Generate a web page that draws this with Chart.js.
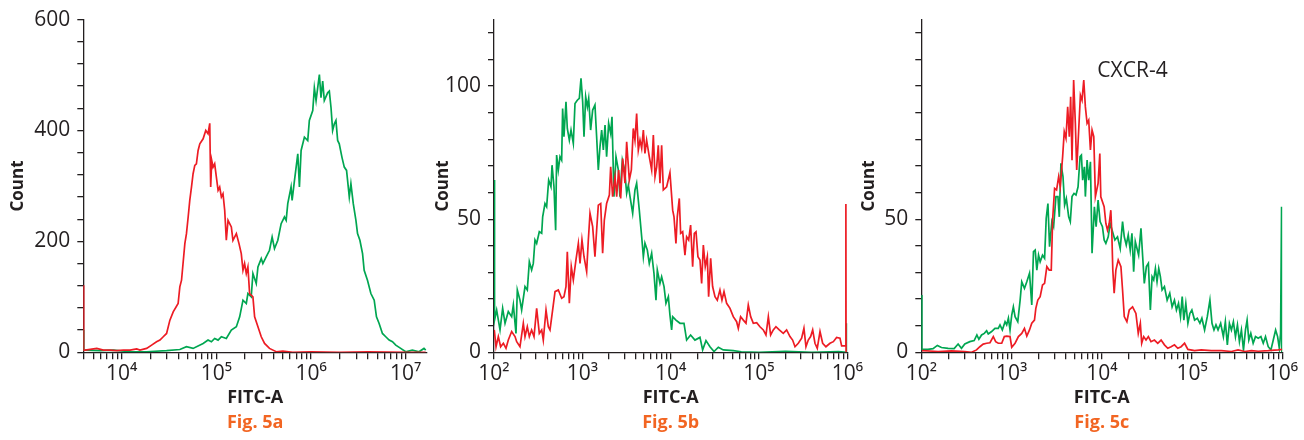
<!DOCTYPE html>
<html>
<head>
<meta charset="utf-8">
<script src="https://cdn.jsdelivr.net/npm/chart.js@4.4.1/dist/chart.umd.min.js"></script>
<style>
  html, body { margin: 0; padding: 0; background: #fff; }
  body { width: 1304px; height: 440px; position: relative; overflow: hidden; }
  .panel { position: absolute; top: 0; height: 440px; }
</style>
</head>
<body>
<div class="panel" style="left:0px"><canvas id="chartA" width="440" height="440"></canvas></div>
<div class="panel" style="left:430px"><canvas id="chartB" width="440" height="440"></canvas></div>
<div class="panel" style="left:850px"><canvas id="chartC" width="454" height="440"></canvas></div>
<script>
// histogram traces: [log10(FITC-A), count]
const aRed = [[3.596,121],[3.598,4],[3.614,4],[3.737,7],[3.807,4],[3.877,4],[3.947,3],[4.018,4],[4.088,4],[4.158,6],[4.193,4],[4.263,7],[4.316,13],[4.368,19],[4.404,22],[4.439,28],[4.474,34],[4.509,58],[4.544,73],[4.596,88],[4.614,118],[4.632,130],[4.667,196],[4.684,214],[4.702,244],[4.719,274],[4.737,298],[4.754,322],[4.772,337],[4.789,340],[4.807,364],[4.825,376],[4.860,385],[4.888,400],[4.912,394],[4.930,413],[4.940,298],[4.951,346],[4.965,334],[4.982,340],[5.000,316],[5.018,292],[5.035,298],[5.053,280],[5.070,286],[5.088,256],[5.105,202],[5.123,238],[5.158,226],[5.175,202],[5.211,214],[5.239,196],[5.263,178],[5.281,148],[5.298,160],[5.316,142],[5.333,154],[5.351,106],[5.386,100],[5.404,64],[5.439,46],[5.474,28],[5.509,16],[5.561,7],[5.632,1],[5.702,2],[5.807,0],[6.000,1],[6.300,0],[6.600,1],[7.000,0],[7.211,0]];
const aGreen = [[3.596,40],[3.598,4],[3.614,4],[3.772,3],[3.912,4],[4.088,1],[4.263,1],[4.474,3],[4.614,5],[4.684,10],[4.754,7],[4.860,16],[4.912,22],[4.947,19],[4.982,25],[5.018,22],[5.053,28],[5.105,25],[5.158,40],[5.211,46],[5.246,64],[5.281,94],[5.316,88],[5.333,106],[5.368,100],[5.386,142],[5.421,124],[5.439,154],[5.474,169],[5.491,160],[5.526,172],[5.561,184],[5.589,208],[5.614,187],[5.649,202],[5.684,232],[5.719,244],[5.737,238],[5.754,268],[5.789,298],[5.800,274],[5.825,310],[5.860,358],[5.877,298],[5.895,364],[5.930,388],[5.965,382],[5.982,418],[6.018,436],[6.035,477],[6.053,454],[6.070,477],[6.088,501],[6.105,459],[6.123,489],[6.140,454],[6.175,468],[6.193,471],[6.211,441],[6.228,400],[6.246,412],[6.263,418],[6.281,382],[6.298,376],[6.326,352],[6.351,334],[6.375,328],[6.404,280],[6.421,304],[6.446,268],[6.474,238],[6.491,214],[6.516,202],[6.544,178],[6.561,148],[6.596,130],[6.632,106],[6.667,94],[6.691,64],[6.719,52],[6.754,34],[6.789,28],[6.825,22],[6.860,19],[6.895,13],[6.947,7],[7.000,1],[7.070,4],[7.140,1],[7.193,7],[7.211,4]];

const bRed = [[2.003,8.4],[2.023,2.1],[2.049,5.9],[2.075,2.1],[2.106,3.4],[2.136,1.5],[2.162,4.6],[2.200,7.8],[2.238,5.9],[2.257,4.0],[2.294,2.1],[2.332,10.9],[2.351,5.9],[2.377,9.6],[2.400,5.9],[2.426,8.4],[2.453,5.9],[2.483,16.5],[2.513,7.1],[2.540,8.4],[2.558,4.6],[2.589,15.9],[2.615,9.6],[2.634,8.4],[2.664,15.9],[2.691,22.8],[2.728,23.4],[2.766,20.3],[2.792,20.9],[2.815,24.7],[2.830,37.8],[2.853,18.4],[2.875,32.2],[2.898,27.2],[2.928,34.7],[2.955,40.9],[2.974,33.4],[2.996,42.2],[3.019,35.9],[3.049,30.3],[3.068,42.2],[3.087,52.2],[3.117,47.2],[3.143,35.9],[3.162,45.9],[3.181,55.3],[3.208,55.9],[3.230,37.2],[3.249,49.7],[3.275,55.9],[3.306,59.1],[3.321,69.7],[3.343,58.5],[3.370,66.0],[3.389,58.5],[3.411,68.5],[3.434,57.8],[3.457,72.8],[3.483,63.5],[3.502,79.1],[3.532,64.7],[3.555,68.5],[3.577,84.1],[3.596,79.7],[3.615,89.7],[3.634,76.0],[3.653,79.7],[3.672,76.6],[3.691,83.5],[3.709,74.7],[3.728,79.7],[3.758,73.5],[3.785,68.5],[3.804,81.6],[3.823,66.0],[3.842,69.7],[3.860,77.8],[3.879,63.5],[3.898,77.8],[3.917,61.0],[3.955,62.2],[3.992,67.5],[4.023,53.4],[4.038,50.9],[4.060,40.9],[4.075,50.9],[4.098,57.8],[4.113,44.7],[4.136,45.3],[4.162,36.5],[4.181,43.4],[4.204,42.2],[4.226,47.8],[4.249,32.2],[4.268,44.7],[4.287,45.3],[4.309,35.9],[4.332,34.7],[4.351,25.9],[4.370,40.3],[4.392,32.2],[4.415,35.9],[4.430,20.9],[4.453,35.3],[4.475,24.7],[4.502,20.9],[4.528,19.6],[4.558,23.4],[4.581,19.6],[4.604,22.8],[4.634,18.4],[4.672,16.5],[4.709,13.4],[4.747,11.5],[4.766,9.0],[4.792,13.4],[4.823,12.1],[4.853,10.9],[4.879,17.8],[4.906,13.4],[4.936,10.9],[4.974,11.1],[5.011,9.6],[5.049,8.4],[5.079,6.5],[5.106,13.4],[5.132,6.5],[5.162,8.4],[5.192,9.6],[5.230,8.4],[5.275,7.1],[5.313,8.4],[5.351,5.9],[5.381,4.6],[5.408,2.1],[5.445,3.4],[5.483,5.3],[5.509,9.0],[5.532,2.1],[5.558,4.6],[5.585,5.9],[5.608,8.4],[5.634,3.4],[5.660,1.5],[5.691,7.8],[5.721,3.4],[5.758,2.1],[5.804,3.4],[5.842,4.0],[5.879,5.6],[5.917,5.3],[5.936,2.4],[5.962,2.4],[5.982,2.4],[5.984,55.7],[5.986,0]];
const bGreen = [[2.003,64.7],[2.006,12.1],[2.030,15.9],[2.068,8.4],[2.098,16.5],[2.125,10.9],[2.162,15.3],[2.200,13.4],[2.219,17.8],[2.249,7.1],[2.264,23.4],[2.294,19.6],[2.313,15.9],[2.351,24.7],[2.377,23.4],[2.400,34.0],[2.426,30.9],[2.445,33.4],[2.464,42.2],[2.483,40.9],[2.513,45.3],[2.540,44.7],[2.551,50.9],[2.577,55.9],[2.596,54.7],[2.619,64.7],[2.645,62.2],[2.657,70.3],[2.679,62.2],[2.698,45.9],[2.709,74.1],[2.728,68.5],[2.747,73.5],[2.766,72.2],[2.777,91.6],[2.792,81.0],[2.815,94.1],[2.830,84.1],[2.853,79.7],[2.872,83.5],[2.898,78.5],[2.917,93.5],[2.943,94.7],[2.966,95.4],[2.985,102.9],[3.004,94.1],[3.019,81.0],[3.038,96.0],[3.057,92.2],[3.072,95.4],[3.094,83.5],[3.117,91.0],[3.143,92.9],[3.162,81.0],[3.181,68.5],[3.200,77.2],[3.219,83.5],[3.238,76.0],[3.257,85.4],[3.275,73.5],[3.298,86.0],[3.321,82.2],[3.336,88.5],[3.358,58.5],[3.381,73.5],[3.408,68.5],[3.426,58.5],[3.453,72.2],[3.479,68.5],[3.502,59.7],[3.521,62.8],[3.540,58.5],[3.570,52.2],[3.596,61.0],[3.615,63.5],[3.645,53.4],[3.672,43.4],[3.691,35.9],[3.709,41.0],[3.736,38.4],[3.758,33.4],[3.785,37.2],[3.811,29.7],[3.834,19.6],[3.849,30.9],[3.879,25.9],[3.898,28.4],[3.925,24.7],[3.947,18.4],[3.974,20.9],[3.992,14.0],[4.011,8.4],[4.023,13.4],[4.060,12.1],[4.106,10.9],[4.151,10.9],[4.181,4.6],[4.226,6.5],[4.275,4.6],[4.332,5.6],[4.362,0.9],[4.400,4.4],[4.445,2.1],[4.491,0.3],[4.540,1.9],[4.596,0.9],[4.709,0.6],[4.800,0.2],[5.000,0],[5.300,0.4],[5.600,0],[5.900,0.3],[5.990,0],[5.993,10.9],[5.996,0]];

const cRed = [[2.007,0.6],[2.186,0.3],[2.334,0.5],[2.482,0.3],[2.557,0],[2.612,0.9],[2.649,2.1],[2.686,3.1],[2.724,3.4],[2.761,3.6],[2.798,5.9],[2.824,4.0],[2.853,3.4],[2.891,3.4],[2.920,5.9],[2.946,6.1],[2.983,5.9],[3.002,1.9],[3.039,3.4],[3.076,5.9],[3.113,7.1],[3.143,9.0],[3.169,6.1],[3.199,8.4],[3.224,10.9],[3.254,12.1],[3.269,16.5],[3.291,19.6],[3.317,20.9],[3.343,25.3],[3.366,25.9],[3.391,32.2],[3.417,30.9],[3.440,30.9],[3.455,49.7],[3.477,61.6],[3.499,61.0],[3.522,66.0],[3.540,62.2],[3.566,73.5],[3.584,82.9],[3.603,80.4],[3.622,92.2],[3.640,81.0],[3.655,96.0],[3.670,72.2],[3.688,102.3],[3.707,86.0],[3.722,68.5],[3.744,83.5],[3.763,96.6],[3.781,94.7],[3.800,102.3],[3.818,92.2],[3.837,86.0],[3.855,87.2],[3.874,76.0],[3.892,83.5],[3.911,81.0],[3.929,58.5],[3.959,63.5],[3.978,74.7],[3.989,58.4],[4.026,54.7],[4.045,48.4],[4.063,45.9],[4.082,48.4],[4.100,53.4],[4.111,44.7],[4.122,30.9],[4.137,22.2],[4.156,30.9],[4.182,34.7],[4.212,32.2],[4.230,23.4],[4.249,13.4],[4.278,11.5],[4.304,15.9],[4.341,17.1],[4.378,14.6],[4.404,7.1],[4.427,10.9],[4.442,3.4],[4.464,5.9],[4.490,4.6],[4.516,5.9],[4.545,4.0],[4.583,4.6],[4.620,3.4],[4.657,4.6],[4.694,2.8],[4.731,1.5],[4.768,2.1],[4.805,2.8],[4.842,1.5],[4.879,2.1],[4.917,3.4],[4.954,1.1],[5.028,0.6],[5.102,0.9],[5.213,0.6],[5.325,0.6],[5.436,0.3],[5.510,0.9],[5.584,0.3],[5.659,0.6],[5.733,0.4],[5.844,0.6],[5.955,0.9],[6.000,1.1]];
const cGreen = [[2.003,21.5],[2.006,1.1],[2.074,1.1],[2.130,1.4],[2.178,2.6],[2.223,1.8],[2.297,1.5],[2.364,1.4],[2.408,3.1],[2.445,1.5],[2.482,3.1],[2.538,4.0],[2.586,4.4],[2.616,6.5],[2.638,4.9],[2.668,6.5],[2.698,7.1],[2.724,8.1],[2.742,6.9],[2.779,7.8],[2.816,9.0],[2.853,9.0],[2.872,10.3],[2.898,8.4],[2.928,11.5],[2.946,10.3],[2.965,12.8],[2.983,8.4],[3.002,14.0],[3.020,17.1],[3.039,13.4],[3.069,11.5],[3.095,19.6],[3.113,26.5],[3.143,24.0],[3.169,26.5],[3.199,29.7],[3.224,17.8],[3.243,37.8],[3.262,38.4],[3.280,30.9],[3.299,36.5],[3.317,34.0],[3.343,36.5],[3.366,35.3],[3.384,50.3],[3.403,55.9],[3.421,39.7],[3.447,49.1],[3.466,47.2],[3.492,58.5],[3.514,58.5],[3.529,50.9],[3.547,71.0],[3.570,66.0],[3.588,55.3],[3.607,57.8],[3.633,50.9],[3.651,49.1],[3.670,58.5],[3.692,59.7],[3.714,59.1],[3.737,62.2],[3.759,73.5],[3.774,74.1],[3.788,64.7],[3.807,69.7],[3.818,58.5],[3.837,72.2],[3.855,64.7],[3.874,71.6],[3.892,37.2],[3.918,54.7],[3.937,47.2],[3.959,57.2],[3.981,49.1],[4.007,47.2],[4.026,42.2],[4.045,40.9],[4.071,43.4],[4.093,48.4],[4.119,45.3],[4.145,42.2],[4.174,43.4],[4.204,39.0],[4.230,49.1],[4.249,43.4],[4.271,40.3],[4.293,44.1],[4.315,38.4],[4.334,44.7],[4.353,30.3],[4.371,41.6],[4.390,39.0],[4.408,36.5],[4.434,46.6],[4.453,35.9],[4.471,25.9],[4.494,32.2],[4.516,33.4],[4.538,15.9],[4.557,28.4],[4.575,27.2],[4.594,31.5],[4.612,26.5],[4.631,31.5],[4.649,28.4],[4.668,23.4],[4.694,24.7],[4.724,19.6],[4.753,22.2],[4.779,17.1],[4.805,19.6],[4.827,15.9],[4.850,18.4],[4.872,13.4],[4.891,20.9],[4.909,12.1],[4.931,18.4],[4.954,10.9],[4.976,14.6],[4.998,15.9],[5.028,12.1],[5.058,12.8],[5.087,10.9],[5.109,12.8],[5.139,8.4],[5.169,13.4],[5.198,19.6],[5.221,10.9],[5.243,8.4],[5.265,10.3],[5.288,8.4],[5.317,10.9],[5.347,5.9],[5.369,11.5],[5.391,2.8],[5.414,10.9],[5.436,8.4],[5.458,11.5],[5.481,5.9],[5.503,10.3],[5.525,4.0],[5.547,8.4],[5.570,0.9],[5.592,8.4],[5.610,12.1],[5.629,4.6],[5.651,7.1],[5.677,3.4],[5.703,5.9],[5.733,5.3],[5.763,5.9],[5.789,3.4],[5.814,5.9],[5.844,2.1],[5.874,0.9],[5.900,4.6],[5.926,8.4],[5.948,5.9],[5.967,1.5],[5.981,7.1],[5.992,54.7],[5.995,0]];

// axis ticks and labels
const aXTicks = [1e4, 1e5, 1e6, 1e7];
const aXLabels = ['10⁴', '10⁵', '10⁶', '10⁷'];
const bcXTicks = [1e2, 1e3, 1e4, 1e5, 1e6];
const bcXLabels = ['10²', '10³', '10⁴', '10⁵', '10⁶'];
const aYTicks = [0, 40, 80, 120, 160, 200, 240, 280, 320, 360, 400, 440, 480, 520, 560, 600];
const aYLabels = [0, 200, 400, 600];
const bcYTicks = [0, 10, 20, 30, 40, 50, 60, 70, 80, 90, 100, 110, 120];
const bYLabels = [0, 50, 100];
const cYLabels = [0, 50];

const INK = '#231f20';
const RED = '#ed1c24';
const GREEN = '#00a651';
const ORANGE = '#f26522';
const FONT = "'Open Sans', 'DejaVu Sans', sans-serif";

function toPoints(pairs) {
  return pairs.map(p => ({ x: Math.pow(10, p[0]), y: p[1] }));
}

// every 1..9 x 10^n position between the axis ends, labelled only on the decades
function logTicks(majors, min, max) {
  const out = [];
  const e0 = Math.round(Math.log10(majors[0])) - 1;
  const e1 = Math.round(Math.log10(majors[majors.length - 1]));
  for (let e = e0; e <= e1; e++) {
    for (let k = 1; k <= 9; k++) {
      const v = k * Math.pow(10, e);
      if (v >= min && v <= max * 1.0001) out.push({ value: v });
    }
  }
  return out;
}

const textLabel = {
  id: 'textLabel',
  afterDatasetsDraw(chart, args, opts) {
    if (!opts.text) return;
    const { ctx, scales } = chart;
    ctx.save();
    ctx.font = '21px ' + FONT;
    ctx.fillStyle = INK;
    ctx.textAlign = 'center';
    ctx.textBaseline = 'middle';
    ctx.fillText(opts.text, scales.x.getPixelForValue(opts.x), scales.y.getPixelForValue(opts.y));
    ctx.restore();
  }
};

function makePanel(id, p) {
  const axisLine = { display: true, color: INK, width: 1.3 };
  new Chart(document.getElementById(id), {
    type: 'line',
    data: {
      datasets: [
        { data: toPoints(p.red), borderColor: RED, borderWidth: 1.7, pointRadius: 0, tension: 0 },
        { data: toPoints(p.green), borderColor: GREEN, borderWidth: 1.7, pointRadius: 0, tension: 0 }
      ]
    },
    options: {
      responsive: false,
      animation: false,
      devicePixelRatio: 1,
      events: [],
      layout: { padding: { left: 0, right: p.padRight, top: 18.3, bottom: 0 } },
      scales: {
        x: {
          type: 'logarithmic',
          bounds: 'data',
          min: p.xMin,
          max: p.xMax,
          afterBuildTicks: s => { s.ticks = logTicks(p.xTicks, p.xMin, p.xMax); },
          afterFit: s => { s.height = 59.9; },
          ticks: {
            autoSkip: false, maxRotation: 0, minRotation: 0, padding: 2,
            color: INK, font: { family: FONT, size: 21 },
            callback: v => {
              const i = p.xTicks.indexOf(v);
              return i >= 0 ? p.xLabels[i] : '';
            }
          },
          grid: { drawOnChartArea: false, drawTicks: true, tickLength: 7, color: INK, lineWidth: 1.3 },
          border: axisLine,
          title: {
            display: true, text: 'FITC-A', color: INK,
            font: { family: FONT, size: 18, weight: 'bold' },
            padding: { top: 0, bottom: 3.1 }
          }
        },
        y: {
          bounds: 'data',
          min: 0,
          max: p.yMax,
          afterBuildTicks: s => { s.ticks = p.yTicks.map(v => ({ value: v })); },
          afterFit: s => { s.width = p.yWidth; },
          ticks: {
            autoSkip: false, padding: 7,
            color: INK, font: { family: FONT, size: 21 },
            callback: v => p.yLabels.includes(v) ? String(v) : ''
          },
          grid: { drawOnChartArea: false, drawTicks: true, tickLength: 6, color: INK, lineWidth: 1.3 },
          border: axisLine,
          title: {
            display: true, text: 'Count', color: INK,
            font: { family: FONT, size: 17, weight: 'bold' },
            padding: { top: p.countPad, bottom: 0 }
          }
        }
      },
      plugins: {
        legend: { display: false },
        tooltip: { enabled: false },
        title: {
          display: true, text: p.fig, position: 'bottom', fullSize: false,
          color: ORANGE, font: { family: FONT, size: 18, weight: 'bold' },
          padding: { top: 0, bottom: 6.2 }
        },
        textLabel: p.note || {}
      }
    },
    plugins: [textLabel]
  });
}

makePanel('chartA', {
  red: aRed, green: aGreen, fig: 'Fig. 5a',
  xMin: 3930, xMax: 16777216, xTicks: aXTicks, xLabels: aXLabels,
  yMax: 600, yTicks: aYTicks, yLabels: aYLabels,
  yWidth: 83.3, countPad: 8.1, padRight: 13
});
makePanel('chartB', {
  red: bRed, green: bGreen, fig: 'Fig. 5b',
  xMin: 100, xMax: 1e6, xTicks: bcXTicks, xLabels: bcXLabels,
  yMax: 125, yTicks: bcYTicks, yLabels: bYLabels,
  yWidth: 64, countPad: 2.5, padRight: 22.7
});
makePanel('chartC', {
  red: cRed, green: cGreen, fig: 'Fig. 5c',
  xMin: 100, xMax: 1e6, xTicks: bcXTicks, xLabels: bcXLabels,
  yMax: 125, yTicks: bcYTicks, yLabels: cYLabels,
  yWidth: 71.3, countPad: 8.8, padRight: 21.7,
  note: { text: 'CXCR-4', x: 21900, y: 105.5 }
});
</script>
</body>
</html>
